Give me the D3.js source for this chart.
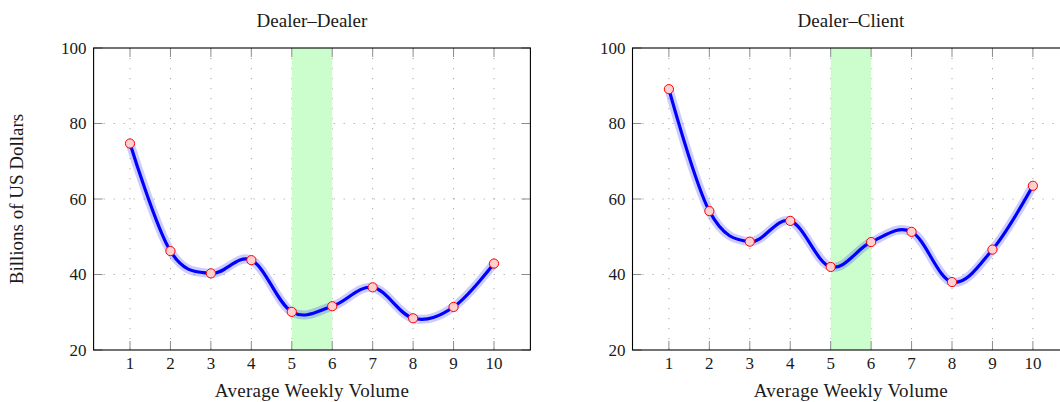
<!DOCTYPE html>
<html>
<head>
<meta charset="utf-8">
<script src="https://cdn.jsdelivr.net/npm/d3@7"></script>
<style>
    body { margin: 0; background: #fff; }
    text { font-family: "Liberation Serif", "DejaVu Serif", serif; fill: #1a1a1a; }
</style>
</head>
<body>
<svg id="chart" width="1060" height="402"></svg>
<script>
// values
var volumes = [1, 2, 3, 4, 5, 6, 7, 8, 9, 10];
var dealerDealer = [74.7, 46.2, 40.3, 43.8, 30.1, 31.6, 36.6, 28.4, 31.4, 42.9];
var dealerClient = [89.1, 56.8, 48.7, 54.2, 42.0, 48.6, 51.3, 38.0, 46.6, 63.5];
var xTicks = [1, 2, 3, 4, 5, 6, 7, 8, 9, 10];
var yTicks = [20, 40, 60, 80, 100];
var xDomain = [0.1, 10.9];
var yDomain = [20, 100];
var highlight = [5, 6];
var panelTitles = ['Dealer\u2013Dealer', 'Dealer\u2013Client'];
var xLabel = 'Average Weekly Volume';
var yLabel = 'Billions of US Dollars';

var svg = d3.select('#chart');

var dim = {
    top: 48,
    width: 436.8,
    height: 302,
    tick: 9
};

function Panel(left, title, values, showYLabel) {
    var bottom = dim.top + dim.height,
        right = left + dim.width;

    var xScale = d3.scaleLinear().domain(xDomain).range([left, right]);
    var yScale = d3.scaleLinear().domain(yDomain).range([bottom, dim.top]);

    var g = svg.append('g');

    // dotted grid
    g.append('g').selectAll('line')
        .data(xTicks)
        .join('line')
        .attr('x1', function(d) { return xScale(d); })
        .attr('x2', function(d) { return xScale(d); })
        .attr('y1', dim.top)
        .attr('y2', bottom)
        .attr('stroke', '#a8a8a8')
        .attr('stroke-dasharray', '1.2 8.8');
    g.append('g').selectAll('line')
        .data(yTicks.slice(1, -1))
        .join('line')
        .attr('x1', left)
        .attr('x2', right)
        .attr('y1', function(d) { return yScale(d); })
        .attr('y2', function(d) { return yScale(d); })
        .attr('stroke', '#a8a8a8')
        .attr('stroke-dasharray', '1.2 8.8');

    // highlighted band
    g.append('rect')
        .attr('x', xScale(highlight[0]))
        .attr('y', dim.top)
        .attr('width', xScale(highlight[1]) - xScale(highlight[0]))
        .attr('height', dim.height)
        .attr('fill', '#ccfdcc');

    // inward ticks on all sides
    var ticks = g.append('g').attr('stroke', '#8c8c8c');
    xTicks.forEach(function(d) {
        var x = xScale(d);
        ticks.append('line').attr('x1', x).attr('x2', x)
            .attr('y1', bottom).attr('y2', bottom - dim.tick);
        ticks.append('line').attr('x1', x).attr('x2', x)
            .attr('y1', dim.top).attr('y2', dim.top + dim.tick);
    });
    yTicks.forEach(function(d) {
        var y = yScale(d);
        ticks.append('line').attr('x1', left).attr('x2', left + dim.tick)
            .attr('y1', y).attr('y2', y);
        ticks.append('line').attr('x1', right).attr('x2', right - dim.tick)
            .attr('y1', y).attr('y2', y);
    });

    // frame
    g.append('rect')
        .attr('x', left)
        .attr('y', dim.top)
        .attr('width', dim.width)
        .attr('height', dim.height)
        .attr('fill', 'none')
        .attr('stroke', '#000')
        .attr('stroke-width', 1.1);

    // tick labels
    g.append('g').selectAll('text')
        .data(xTicks)
        .join('text')
        .attr('x', function(d) { return xScale(d); })
        .attr('y', bottom + 18.5)
        .attr('text-anchor', 'middle')
        .style('font-size', '17px')
        .text(function(d) { return d; });
    g.append('g').selectAll('text')
        .data(yTicks)
        .join('text')
        .attr('x', left - 7)
        .attr('y', function(d) { return yScale(d); })
        .attr('dy', '0.35em')
        .attr('text-anchor', 'end')
        .style('font-size', '17px')
        .text(function(d) { return d; });

    // curve
    var points = volumes.map(function(v, i) { return [v, values[i]]; });
    var line = d3.line()
        .x(function(d) { return xScale(d[0]); })
        .y(function(d) { return yScale(d[1]); })
        .curve(d3.curveCardinal.tension(-0.05));

    g.append('path')
        .attr('d', line(points))
        .attr('fill', 'none')
        .attr('stroke', '#0000ff')
        .attr('stroke-opacity', 0.2)
        .attr('stroke-width', 9)
        .attr('stroke-linejoin', 'round');
    g.append('path')
        .attr('d', line(points))
        .attr('fill', 'none')
        .attr('stroke', '#0000ff')
        .attr('stroke-width', 3.2)
        .attr('stroke-linejoin', 'round');

    g.append('g').selectAll('circle')
        .data(points)
        .join('circle')
        .attr('cx', function(d) { return xScale(d[0]); })
        .attr('cy', function(d) { return yScale(d[1]); })
        .attr('r', 4.6)
        .attr('fill', '#ffd0d0')
        .attr('stroke', '#ff0000')
        .attr('stroke-width', 1);

    // titles
    g.append('text')
        .attr('x', (left + right) / 2)
        .attr('y', 26.5)
        .attr('text-anchor', 'middle')
        .style('font-size', '19px')
        .text(title);
    g.append('text')
        .attr('x', (left + right) / 2)
        .attr('y', 397)
        .attr('text-anchor', 'middle')
        .style('font-size', '19px')
        .style('letter-spacing', '0.3px')
        .text(xLabel);
    if (showYLabel) {
        g.append('text')
            .attr('transform', 'translate(22.5,' + (dim.top + dim.height / 2) + ') rotate(-90)')
            .attr('text-anchor', 'middle')
            .style('font-size', '19px')
            .text(yLabel);
    }
}

Panel(93.6, panelTitles[0], dealerDealer, true);
Panel(632.5, panelTitles[1], dealerClient, false);
</script>
</body>
</html>
